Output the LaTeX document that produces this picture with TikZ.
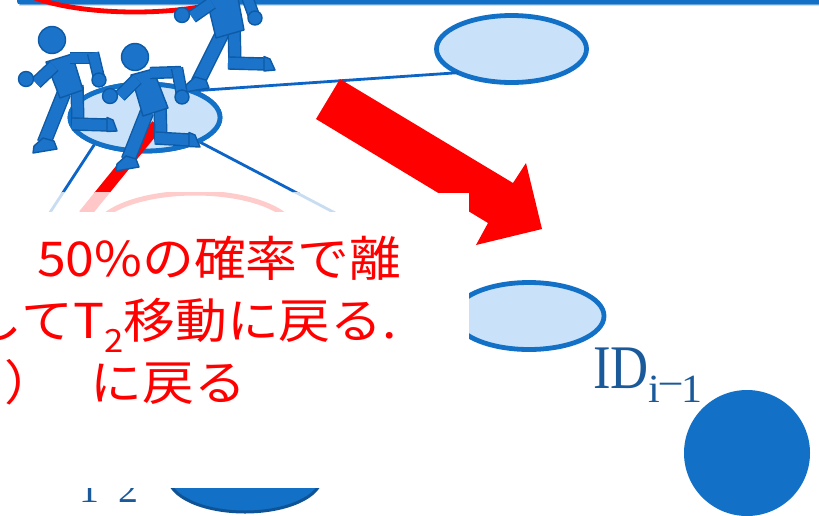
\documentclass[tikz,border=0pt]{standalone}
\usepackage{fontspec}
\usepackage{graphicx}
\usetikzlibrary{shapes.geometric}
\newfontfamily\jpfont{Noto Sans CJK JP}
\newfontfamily\labelfont{Liberation Serif}
\definecolor{barblue}{HTML}{1271C6}
\definecolor{ringfill}{HTML}{C9E2F9}
\definecolor{linkblue}{HTML}{0B64C6}
\definecolor{runfill}{HTML}{1B73CA}
\definecolor{runedge}{HTML}{0D5BA6}
\definecolor{labelblue}{HTML}{1B5A9A}
\definecolor{deepedge}{HTML}{0D5396}
\definecolor{alarm}{HTML}{FF0000}
\tikzset{
  ring/.style={ellipse, draw=barblue, fill=ringfill, line width=4.8pt,
    minimum width=150pt, minimum height=67pt, inner sep=0pt, outer sep=0pt},
  link/.style={draw=linkblue, line width=2.8pt},
  halo/.style={draw=alarm, line width=4.8pt},
  limb/.style={draw=runedge, line width=1.4pt, double=runfill, double distance=#1},
  part/.style={fill=runfill, draw=runedge, line width=1.4pt, line join=round},
  note/.style={anchor=base west, inner sep=0pt, outer sep=0pt, text=alarm,
    font=\jpfont\fontsize{48}{48}\selectfont},
  idlabel/.style={anchor=base west, inner sep=0pt, outer sep=0pt, text=labelblue,
    font=\labelfont},
}
\begin{document}
\begin{tikzpicture}[x=1pt,y=-1pt]
\useasboundingbox (0,0) rectangle (819,515);
\clip (0,0) rectangle (819,515);
\fill[white] (0,0) rectangle (819,515);

% title bar and highlight ring at the top
\fill[barblue, rounded corners=3pt] (17,-6) rectangle (830,4.5);
\fill[ringfill] (19,4.5) rectangle (819,5.5);
\draw[halo] (135,-23) ellipse [x radius=125, y radius=35];

% state ellipses
\node[ring] (e0) at (145,117.5) {};
\node[ring] (e1) at (511.5,49) {};
\node[ring] (e2) at (529,316) {};
\node[ellipse, fill=barblue, draw=deepedge, line width=3pt, minimum width=153pt,
      minimum height=70pt, inner sep=0pt, outer sep=0pt] (e3) at (245,477) {};
\node[circle, fill=barblue, minimum size=126pt, inner sep=0pt] (dot) at (747,453) {};

% links between states
\coordinate (c2) at (440,268);
\coordinate (c3) at (34,237);
\draw[link] (e0.30) -- (e1.204);
\draw[link] (e0.-24) -- (c2);
\draw[link] (e0.-153) -- (c3);
% redraw the source state over its links
\node[ring] at (e0) {};

% red path leaving the source state
\coordinate (r0) at (157,125);
\coordinate (r1) at (84,215);
\draw[alarm, line width=12pt] (r0) -- (r1);

% runner on the left
\draw[limb=12pt] (64,93) -- (44,143);
\filldraw[part] (33,153) -- (34,146) -- (43,138) -- (54,141) -- (57,149) -- cycle;
\draw[limb=10.6pt] (77,85) -- (78,127);
\draw[limb=10.6pt] (72,124) -- (108,125);
\filldraw[part] (107,117.5) -- (113,120) -- (117,131) -- (107,131.5) -- cycle;
\filldraw[part] (46,62) -- (72,54) -- (83,90) -- (60,98) -- cycle;
\draw[limb=10.6pt] (54,66) -- (36,83);
\filldraw[part] (26,79) circle[radius=7.5];
\draw[limb=9.6pt] (70,58) -- (96,58);
\draw[limb=9.6pt] (93,53) -- (99,78);
\filldraw[part] (99,80) circle[radius=7];
\filldraw[part] (52,40) circle[radius=13.5];

% runner at the top
\draw[limb=12pt] (223,32) -- (198,82);
\filldraw[part] (185,92) -- (186,85) -- (195,77) -- (206,80) -- (209,88) -- cycle;
\draw[limb=10.6pt] (234,22) -- (235,66);
\draw[limb=10.6pt] (228,63) -- (265,64);
\filldraw[part] (264,56.5) -- (270,59) -- (275,70) -- (264,71) -- cycle;
\filldraw[part] (204,-12) -- (235,-18) -- (244,30) -- (216,38) -- cycle;
\draw[limb=10.6pt] (212,3) -- (192,17);
\filldraw[part] (182,15) circle[radius=7.5];
\draw[limb=9.6pt] (246,-6) -- (254,16);
\filldraw[part] (255,18) circle[radius=7];

% runner in the middle
\draw[limb=12pt] (147,112) -- (128,160);
\filldraw[part] (116,171) -- (117,164) -- (126,156) -- (136,159) -- (139,167) -- cycle;
\draw[limb=10.6pt] (160,102) -- (161,142);
\draw[limb=10.6pt] (155,138) -- (190,140);
\filldraw[part] (189,132.5) -- (195,135) -- (200,147) -- (189,146.5) -- cycle;
\filldraw[part] (131,75) -- (153,69) -- (168,108) -- (143,116) -- cycle;
\draw[limb=10.6pt] (137,79) -- (120,96);
\filldraw[part] (110,96) circle[radius=7.5];
\draw[limb=9.6pt] (150,73) -- (181,72);
\draw[limb=9.6pt] (177,68) -- (182,95);
\filldraw[part] (182,97) circle[radius=7];
\filldraw[part] (135,57) circle[radius=13.5];

% block arrow
\fill[alarm] (340,79) -- (513,183) -- (526,163) -- (542,229) -- (476,245)
  -- (488,223) -- (316,119) -- cycle;

% state labels
\node[idlabel] (id) at (593,388) {\fontsize{62}{62}\selectfont\scalebox{0.85}[1]{ID}%
  \fontsize{40}{40}\selectfont\raisebox{-14pt}{\scalebox{1.05}[1]{i\raisebox{9pt}{–}1}}};
\node[idlabel, font=\labelfont\fontsize{38}{38}\selectfont] (sub) at (79,502)
  {\scalebox{1.05}[1]{1\raisebox{9pt}{–}2}};

% callout panel; its soft upper edge lets the shapes behind show through faintly
\fill[white] (-10,192.5) rectangle (469,488);
\begin{scope}
  \clip (-10,192.5) rectangle (469,211);
  \draw[link, draw=linkblue!22] (e0.-24) -- (c2);
  \draw[link, draw=linkblue!22] (e0.-153) -- (c3);
  \draw[alarm!22, line width=12pt] (r0) -- (r1);
  \draw[halo, draw=alarm!20, line width=5pt] (195,233) ellipse [x radius=100, y radius=40];
\end{scope}
\node[note] (t1) at (37,276) {\scalebox{1.08}[1]{50\%の確率で離}};
\node[note] (t2) at (-29,338) {\scalebox{1.08}[1]{してT\raisebox{-14pt}{\fontsize{32}{32}\selectfont 2}移動に戻る.}};
\node[note] (t3) at (-10,400) {\scalebox{1.08}[1]{i）\ \ \ に戻る}};
\end{tikzpicture}
\end{document}
